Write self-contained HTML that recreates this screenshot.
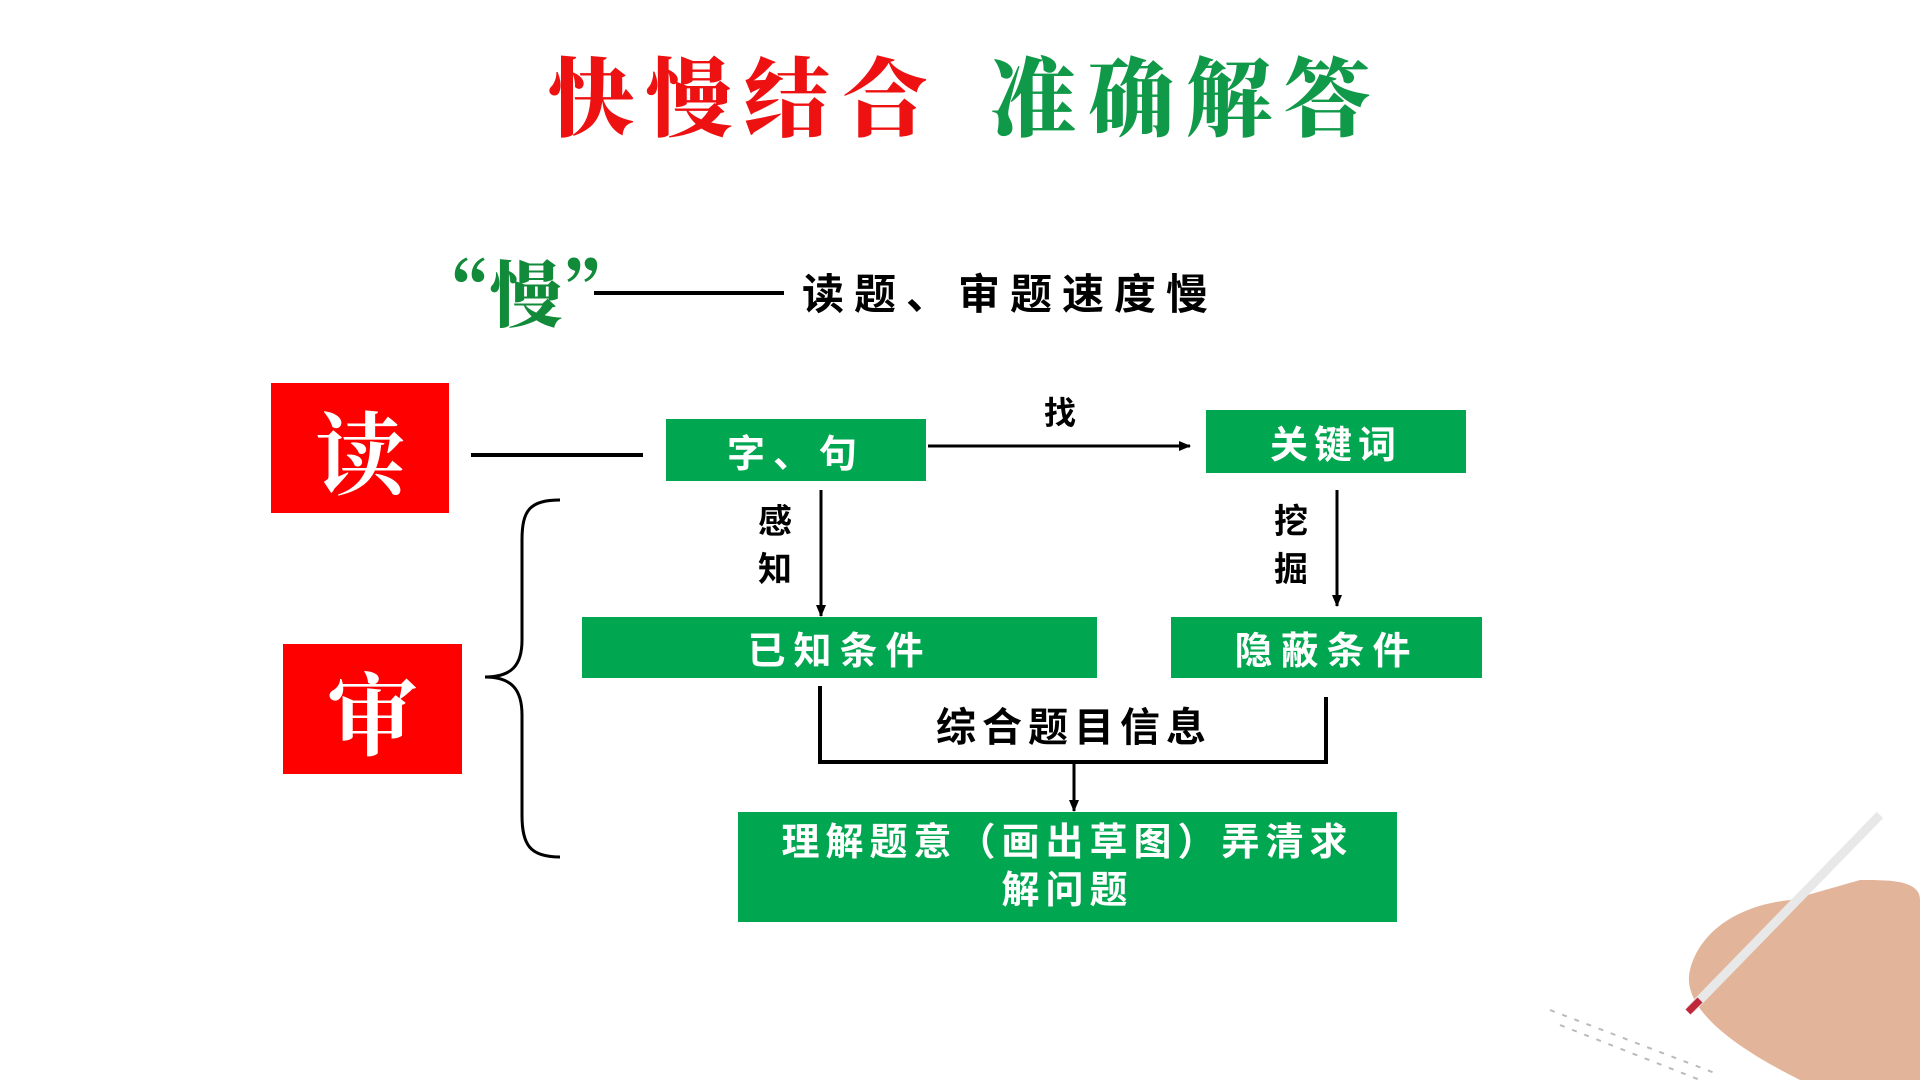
<!DOCTYPE html>
<html><head><meta charset="utf-8"><style>
body{margin:0;width:1920px;height:1080px;background:#fff;position:relative;overflow:hidden;font-family:"Liberation Sans","Noto Sans CJK SC",sans-serif;}
.a{position:absolute;white-space:nowrap}
.g{position:absolute;background:#00a650;color:#fff;font-weight:bold;display:flex;align-items:center;justify-content:center;text-align:center}
.r{position:absolute;background:#ff0000;color:#fff;font-weight:bold;display:flex;align-items:center;justify-content:center;font-size:90px;font-family:"Noto Serif CJK SC",serif}
.k{font-weight:bold;color:#000}
</style></head><body>
<div class="a" style="left:548px;top:30px;font-size:86px;font-weight:900;color:#ee1111;letter-spacing:12px;font-family:'Noto Serif CJK SC',serif">快慢结合</div>
<div class="a" style="left:990px;top:30px;font-size:86px;font-weight:900;color:#11994a;letter-spacing:12px;font-family:'Noto Serif CJK SC',serif">准确解答</div>

<div class="a" style="left:418px;top:254px;font-size:72px;font-weight:900;color:#118a3a;font-family:'Noto Serif CJK SC',serif;line-height:1">“慢”</div>
<div class="a" style="left:594px;top:291px;width:190px;height:4px;background:#000"></div>
<div class="a k" style="left:802px;top:261px;font-size:42px;letter-spacing:10px">读题、审题速度慢</div>

<div class="r" style="left:271px;top:383px;width:178px;height:130px">读</div>
<div class="r" style="left:283px;top:644px;width:179px;height:130px">审</div>
<div class="a" style="left:471px;top:453px;width:172px;height:4px;background:#000"></div>

<div class="g" style="left:666px;top:419px;width:260px;height:62px;font-size:38px;letter-spacing:8px">字、句</div>
<div class="g" style="left:1206px;top:410px;width:260px;height:63px;font-size:38px;letter-spacing:6px">关键词</div>
<div class="g" style="left:582px;top:617px;width:515px;height:61px;font-size:38px;letter-spacing:8px">已知条件</div>
<div class="g" style="left:1171px;top:617px;width:311px;height:61px;font-size:38px;letter-spacing:8px">隐蔽条件</div>
<div class="g" style="left:738px;top:812px;width:659px;height:110px;font-size:38px;letter-spacing:6px;line-height:48px">理解题意（画出草图）弄清求<br>解问题</div>

<div class="a k" style="left:1044px;top:388px;font-size:32px">找</div>
<div class="a k" style="left:758px;top:498px;font-size:34px;line-height:48px">感<br>知</div>
<div class="a k" style="left:1274px;top:498px;font-size:34px;line-height:48px">挖<br>掘</div>
<div class="a k" style="left:936px;top:695px;font-size:40px;letter-spacing:6px">综合题目信息</div>

<svg class="a" style="left:0;top:0" width="1920" height="1080">
<defs><marker id="m" markerWidth="12" markerHeight="10" refX="11" refY="5" orient="auto" markerUnits="userSpaceOnUse"><path d="M0,0 L12,5 L0,10 Z" fill="#000"/></marker></defs>
<g stroke="#000" stroke-width="3" fill="none">
<line x1="928" y1="446" x2="1190" y2="446" marker-end="url(#m)"/>
<line x1="821" y1="490" x2="821" y2="616" marker-end="url(#m)"/>
<line x1="1337" y1="490" x2="1337" y2="606" marker-end="url(#m)"/>
<polyline points="820,686 820,762 1326,762 1326,697" stroke-width="4"/>
<line x1="1074" y1="762" x2="1074" y2="811" marker-end="url(#m)"/>
<path d="M560,500 C530,500 522,510 522,540 L522,640 C522,665 512,677 485,677 C512,677 522,690 522,715 L522,815 C522,845 530,857 560,857" stroke-width="3"/>
</g>
<g>
<path d="M1690,970 C1700,930 1740,905 1790,900 L1860,880 C1890,880 1920,880 1920,900 L1920,1080 L1800,1080 C1740,1050 1680,1010 1690,970 Z" fill="#e2b59a"/>
<line x1="1690" y1="1010" x2="1880" y2="815" stroke="#e8e8e8" stroke-width="9"/>
<line x1="1688" y1="1012" x2="1700" y2="1000" stroke="#c0283a" stroke-width="7"/>
<path d="M1550,1010 L1720,1075 M1560,1025 L1700,1080" stroke="#bbb" stroke-width="2" stroke-dasharray="5 8"/>
</g>
</svg>
</body></html>
